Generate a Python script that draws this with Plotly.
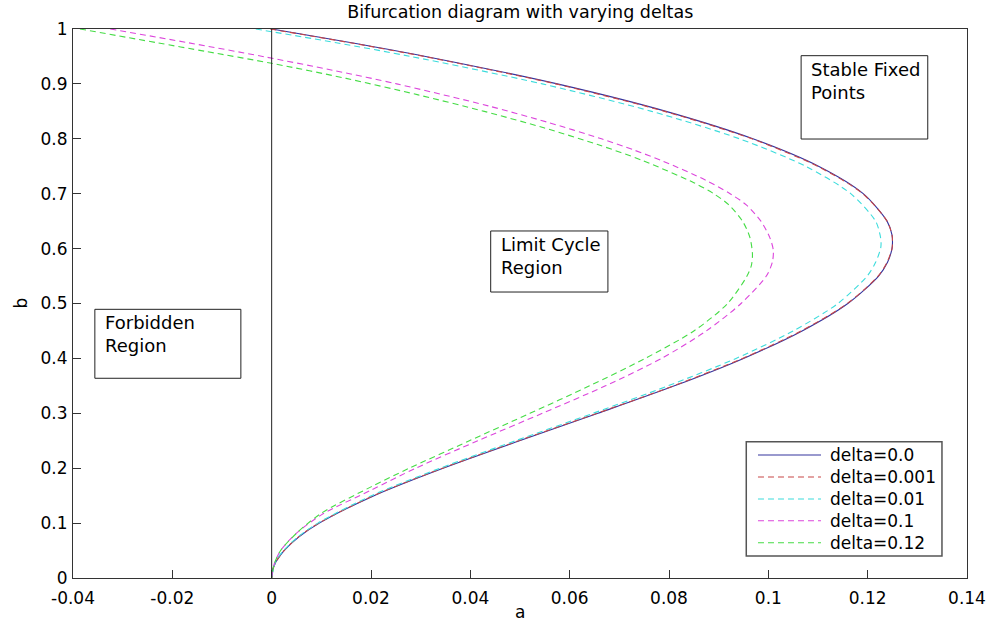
import plotly.graph_objects as go

# Hopf bifurcation curves in the (a, b) plane for several delta values
b_delta0 = [1.0, 0.975, 0.95, 0.9, 0.85, 0.8, 0.75, 0.7, 0.65, 0.625, 0.6124, 0.6, 0.575,
            0.55, 0.5, 0.45, 0.4, 0.35, 0.3, 0.25, 0.2, 0.15, 0.1, 0.075, 0.05, 0.03, 0.02,
            0.01, 0.0]
a_delta0 = [0.0, 0.0161, 0.0310, 0.0575, 0.0794, 0.0969, 0.1101, 0.1191, 0.1239, 0.1249,
            0.1250, 0.1249, 0.1240, 0.1222, 0.1160, 0.1068, 0.0950, 0.0811, 0.0657, 0.0499,
            0.0345, 0.0206, 0.0096, 0.0055, 0.0025, 0.0009, 0.0004, 0.0001, 0.0]

b_delta0001 = b_delta0
a_delta0001 = [-0.0003, 0.0158, 0.0307, 0.0572, 0.0791, 0.0967, 0.1099, 0.1190, 0.1239,
               0.1249, 0.1250, 0.1249, 0.1239, 0.1221, 0.1159, 0.1066, 0.0948, 0.0809,
               0.0655, 0.0497, 0.0344, 0.0205, 0.0095, 0.0054, 0.0025, 0.0009, 0.0004,
               0.0001, 0.0]

b_delta001 = [1.0, 0.975, 0.95, 0.9, 0.85, 0.8, 0.75, 0.7, 0.65, 0.625, 0.61, 0.6, 0.575,
              0.55, 0.5, 0.45, 0.4, 0.35, 0.3, 0.25, 0.2, 0.15, 0.1, 0.075, 0.05, 0.03, 0.0]
a_delta001 = [-0.0032, 0.0130, 0.0280, 0.0545, 0.0765, 0.0942, 0.1075, 0.1166, 0.1216,
              0.1225, 0.1227, 0.1226, 0.1216, 0.1199, 0.1140, 0.1050, 0.0935, 0.0798,
              0.0647, 0.0491, 0.0339, 0.0201, 0.0093, 0.0053, 0.0024, 0.0008, 0.0]

b_delta01 = [1.0, 0.975, 0.95, 0.925, 0.9, 0.86, 0.83, 0.8, 0.78, 0.76, 0.725, 0.7, 0.68,
             0.65, 0.62, 0.597, 0.575, 0.55, 0.5, 0.45, 0.4, 0.35, 0.3, 0.25, 0.2, 0.16,
             0.115, 0.08, 0.05, 0.025, 0.0]
a_delta01 = [-0.0325, -0.0168, -0.0018, 0.0122, 0.0252, 0.0436, 0.0556, 0.0664, 0.0728,
             0.0786, 0.0873, 0.0923, 0.0955, 0.0985, 0.1003, 0.1010, 0.1008, 0.0996,
             0.0945, 0.0875, 0.0785, 0.0672, 0.0545, 0.0415, 0.0290, 0.0200, 0.0100,
             0.0048, 0.0018, 0.0005, 0.0]

b_delta012 = [1.0, 0.975, 0.959, 0.9375, 0.91, 0.88, 0.85, 0.82, 0.79, 0.76, 0.72, 0.7,
              0.68, 0.65, 0.62, 0.59, 0.57, 0.55, 0.5, 0.45, 0.4, 0.35, 0.3, 0.25, 0.2,
              0.166, 0.118, 0.084, 0.05, 0.025, 0.0]
a_delta012 = [-0.0386, -0.0231, -0.0132, 0.0, 0.0150, 0.0295, 0.0428, 0.0548, 0.0655,
              0.0748, 0.0850, 0.0890, 0.0920, 0.0948, 0.0963, 0.0968, 0.0966, 0.0957,
              0.0918, 0.0850, 0.0752, 0.0640, 0.0520, 0.0398, 0.0277, 0.0200, 0.0100,
              0.0053, 0.0018, 0.0005, 0.0]

labels = ["delta=0.0", "delta=0.001", "delta=0.01", "delta=0.1", "delta=0.12"]
series_a = [a_delta0, a_delta0001, a_delta001, a_delta01, a_delta012]
series_b = [b_delta0, b_delta0001, b_delta001, b_delta01, b_delta012]
colors = ["#34349e", "#c84646", "#3cdcdc", "#dc46dc", "#46dc46"]
dashes = ["solid", "6px,4px", "6px,4px", "6px,4px", "6px,4px"]

x_ticks = [-0.04, -0.02, 0, 0.02, 0.04, 0.06, 0.08, 0.1, 0.12, 0.14]
x_ticktext = ["-0.04", "-0.02", "0", "0.02", "0.04", "0.06", "0.08", "0.1", "0.12", "0.14"]
y_ticks = [0, 0.1, 0.2, 0.3, 0.4, 0.5, 0.6, 0.7, 0.8, 0.9, 1]
y_ticktext = ["0", "0.1", "0.2", "0.3", "0.4", "0.5", "0.6", "0.7", "0.8", "0.9", "1"]

# region labels: (text, left, right, bottom, top) in data units
regions = [
    ("Stable Fixed<br>Points", 0.1066, 0.1321, 0.7996, 0.9514),
    ("Limit Cycle<br>Region", 0.0441, 0.0677, 0.5209, 0.6321),
    ("Forbidden<br>Region", -0.0356, -0.0062, 0.3638, 0.4894),
]

FONT = "DejaVu Sans, Arial, sans-serif"

fig = go.Figure()
for a_vals, b_vals, name, col, dsh in zip(series_a, series_b, labels, colors, dashes):
    fig.add_trace(go.Scatter(
        x=a_vals, y=b_vals, mode="lines", name=name, showlegend=False,
        line=dict(color=col, width=1.1, dash=dsh, shape="spline", smoothing=0.8),
        hoverinfo="x+y+name",
    ))

shapes = []
annotations = []

# vertical line at a = 0
shapes.append(dict(type="line", xref="x", yref="y", x0=0, x1=0, y0=0, y1=1,
                   line=dict(color="#222222", width=1)))

for text, x0, x1, y0, y1 in regions:
    shapes.append(dict(type="rect", xref="x", yref="y", x0=x0, x1=x1, y0=y0, y1=y1,
                       line=dict(color="#222222", width=1), fillcolor="rgba(0,0,0,0)"))
    annotations.append(dict(x=x0, y=y1, xref="x", yref="y", text=text, showarrow=False,
                            xanchor="left", yanchor="top", align="left", xshift=8, yshift=-1,
                            font=dict(family=FONT, size=18, color="#000000")))

# legend box in the lower right corner
lg_x0, lg_x1, lg_y0, lg_y1 = 0.7531, 0.9720, 0.0401, 0.2483
shapes.append(dict(type="rect", xref="paper", yref="paper", x0=lg_x0, x1=lg_x1,
                   y0=lg_y0, y1=lg_y1, line=dict(color="#555555", width=1.5),
                   fillcolor="#ffffff", layer="above"))
entry_y = [0.2240, 0.1840, 0.1439, 0.1044, 0.0643]
for yy, name, col, dsh in zip(entry_y, labels, colors, dashes):
    shapes.append(dict(type="line", xref="paper", yref="paper", x0=0.7662, x1=0.8367,
                       y0=yy, y1=yy, line=dict(color=col, width=1.1, dash=dsh), layer="above"))
    annotations.append(dict(x=0.8442, y=yy, xref="paper", yref="paper", text=name,
                            showarrow=False, xanchor="left", yanchor="middle",
                            font=dict(family=FONT, size=17, color="#000000")))

# axis titles
annotations.append(dict(x=0.5, y=0, xref="paper", yref="paper", text="a", showarrow=False,
                        xanchor="center", yanchor="middle", yshift=-34,
                        font=dict(family=FONT, size=17, color="#000000")))
annotations.append(dict(x=0, y=0.5, xref="paper", yref="paper", text="b", showarrow=False,
                        xanchor="center", yanchor="middle", xshift=-53, textangle=-90,
                        font=dict(family=FONT, size=17, color="#000000")))

fig.update_layout(
    width=989, height=622,
    margin=dict(l=73, r=22, t=29, b=44),
    paper_bgcolor="#ffffff", plot_bgcolor="#ffffff",
    title=dict(text="Bifurcation diagram with varying deltas", x=0.526, xanchor="center",
               y=0.981, yanchor="middle", font=dict(family=FONT, size=17.5, color="#000000")),
    font=dict(family=FONT, size=17, color="#000000"),
    shapes=shapes, annotations=annotations,
    xaxis=dict(range=[-0.04, 0.14], tickvals=x_ticks, ticktext=x_ticktext,
               ticks="inside", ticklen=8, tickcolor="#333333", showgrid=False,
               zeroline=False, showline=True, linecolor="#333333", linewidth=1, mirror=True,
               ticklabelstandoff=5, automargin=False,
               tickfont=dict(family=FONT, size=17)),
    yaxis=dict(range=[0, 1], tickvals=y_ticks, ticktext=y_ticktext,
               ticks="inside", ticklen=8, tickcolor="#333333", showgrid=False,
               zeroline=False, showline=True, linecolor="#333333", linewidth=1, mirror=True,
               ticklabelstandoff=1, automargin=False,
               tickfont=dict(family=FONT, size=17)),
)

fig.write_html("out.html")
